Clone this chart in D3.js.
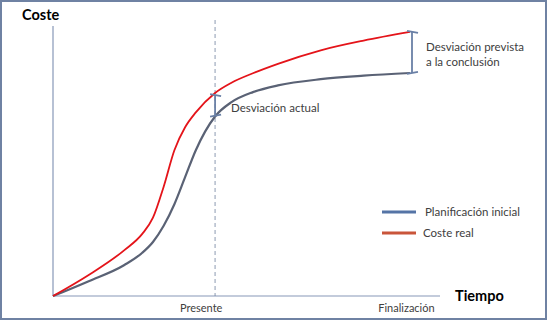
<!DOCTYPE html>
<html><head><meta charset="utf-8">
<script src="https://cdn.jsdelivr.net/npm/d3@7"></script>
<style>html,body{margin:0;padding:0;background:#fff;}svg{display:block;}</style>
</head><body><svg id="c" width="549" height="323"></svg>
<script>
// ---- data ----
const timePoints   = [0, 10, 20, 25, 28, 31, 34, 37, 40, 45.4, 50, 56, 63, 75, 87, 100];
const plannedCost  = [0, 5.5, 11.5, 16, 20, 26, 34, 44, 54, 66.5, 71.8, 75.5, 78, 80.3, 81.6, 82.6];
const actualCost   = [0, 7.8, 17, 23, 29, 40.5, 54, 62.5, 68, 75.2, 79, 82.5, 86, 91, 94.6, 97.8];
const tickLabels   = ["Presente", "Finalización"];
const tickTimes    = [45.4, 100];
const labelTimes   = [41.5, 99];
const seriesNames  = ["Planificación inicial", "Coste real"];
const axisTitles   = ["Coste", "Tiempo"];
const deviationNow = ["Desviación actual"];
const deviationEnd = ["Desviación prevista", "a la conclusión"];

const svg = d3.select("#c");
const font = "Lato, 'Open Sans', sans-serif";
const x = d3.scaleLinear().domain([0, 100]).range([53, 410]);
const y = d3.scaleLinear().domain([0, 100]).range([296, 26]);

// frame
svg.append("rect").attr("x", 1).attr("y", 1).attr("width", 545).attr("height", 318)
  .attr("fill", "#fff").attr("stroke", "#6f82a3").attr("stroke-width", 2);

// axes
svg.append("line").attr("x1", x(0)).attr("x2", x(0)).attr("y1", 26).attr("y2", y(0))
  .attr("stroke", "#8798b8").attr("stroke-width", 1.2);
svg.append("line").attr("x1", x(0)).attr("x2", 440).attr("y1", y(0)).attr("y2", y(0))
  .attr("stroke", "#8798b8").attr("stroke-width", 1.2);

// present dashed line
svg.append("line").attr("x1", x(tickTimes[0])).attr("x2", x(tickTimes[0])).attr("y1", 20).attr("y2", y(0))
  .attr("stroke", "#6f7f9c").attr("stroke-width", 0.8).attr("stroke-dasharray", "4,3");

// tick labels
svg.selectAll("text.tick").data(tickLabels).enter().append("text")
  .attr("x", (d, i) => x(labelTimes[i])).attr("y", 312)
  .attr("text-anchor", "middle").attr("font-family", font).attr("font-size", 11)
  .attr("fill", "#404040").text(d => d);

// axis titles
svg.append("text").attr("x", 22).attr("y", 20).attr("font-family", font).attr("font-weight", "bold")
  .attr("font-size", 14.5).attr("fill", "#000").text(axisTitles[0]);
svg.append("text").attr("x", 455).attr("y", 301).attr("font-family", font).attr("font-weight", "bold")
  .attr("font-size", 14.5).attr("fill", "#000").text(axisTitles[1]);

// curves
const line = d3.line().x(d => x(d[0])).y(d => y(d[1])).curve(d3.curveMonotoneX);
svg.append("path").datum(timePoints.map((t, i) => [t, plannedCost[i]]))
  .attr("d", line).attr("fill", "none").attr("stroke", "#5a6275").attr("stroke-width", 2.2);
svg.append("path").datum(timePoints.map((t, i) => [t, actualCost[i]]))
  .attr("d", line).attr("fill", "none").attr("stroke", "#e4141a").attr("stroke-width", 1.8);

// deviation brackets
function bracket(t, c1, c2, dx) {
  const xx = x(t) + dx;
  const g = svg.append("g").attr("stroke", "#6a80a6").attr("stroke-width", 1.8);
  g.append("line").attr("x1", xx).attr("x2", xx).attr("y1", y(c1)).attr("y2", y(c2));
  g.append("line").attr("x1", xx - 5).attr("x2", xx + 6).attr("y1", y(c1) - 1).attr("y2", y(c1) + 1);
  g.append("line").attr("x1", xx - 5).attr("x2", xx + 6).attr("y1", y(c2) + 1).attr("y2", y(c2) - 1);
}
const iNow = timePoints.indexOf(tickTimes[0]);
const iEnd = timePoints.length - 1;
bracket(tickTimes[0], actualCost[iNow] - 0.8, plannedCost[iNow] + 0.3, 0);
bracket(tickTimes[1], actualCost[iEnd], plannedCost[iEnd], 2);

svg.append("text").attr("x", 231).attr("y", 112).attr("font-family", font).attr("font-size", 11.5)
  .attr("fill", "#404040").text(deviationNow[0]);
svg.selectAll("text.dev").data(deviationEnd).enter().append("text")
  .attr("x", 426).attr("y", (d, i) => 51 + i * 15).attr("font-family", font).attr("font-size", 11.5)
  .attr("fill", "#404040").text(d => d);

// legend
const legColors = ["#5574a6", "#c9553a"];
seriesNames.forEach((n, i) => {
  const yy = 212 + i * 21;
  svg.append("line").attr("x1", 382).attr("x2", 416).attr("y1", yy).attr("y2", yy)
    .attr("stroke", legColors[i]).attr("stroke-width", 3);
  svg.append("text").attr("x", i === 0 ? 425 : 423).attr("y", yy + 4).attr("font-family", font)
    .attr("font-size", 11.5).attr("fill", "#404040").text(n);
});
</script></body></html>
